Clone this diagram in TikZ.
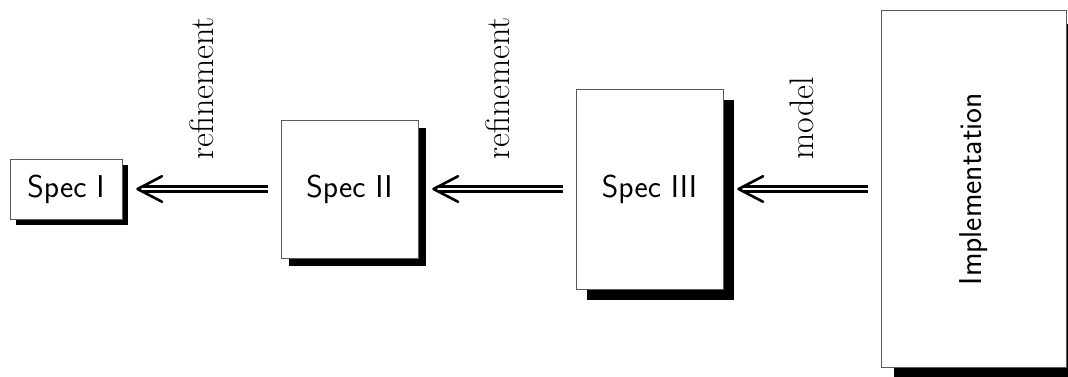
\documentclass[tikz,border=0pt]{standalone}
\usetikzlibrary{arrows.meta,shadows}
\begin{document}
\begin{tikzpicture}[x=0.5pt,y=-0.5pt,
  spec/.style={draw=black!65, line width=0.5pt, fill=white, inner sep=0pt,
    font=\sffamily\fontsize{15.8}{19}\selectfont},
  shadowed/.style={drop shadow={opacity=1, fill=black,
    shadow xshift=#1, shadow yshift=-#1}},
  dbl/.style={double, double distance=1.15pt, line width=1.35pt,
    shorten <=6.5pt, shorten >=2.6pt},
  chev/.style={line width=1.3pt, line cap=round, line join=round},
  lab/.style={rotate=90, anchor=base west, inner sep=0pt,
    font=\rmfamily\fontsize{17}{20}\selectfont}]
\clip (0,0) rectangle (1068,376);

% specification boxes, growing from left to right
\node[spec, shadowed=2.75pt, minimum width=56pt, minimum height=30pt]
  (s1) at (66,189) {Spec I};
\node[spec, shadowed=4pt, minimum width=68.5pt, minimum height=69pt]
  (s2) at (349.5,189) {Spec II};
\node[spec, shadowed=5.5pt, minimum width=73.5pt, minimum height=100pt]
  (s3) at (649.5,189) {Spec III};
\node[spec, shadowed=6.5pt, minimum width=92.5pt, minimum height=178.5pt]
  (impl) at (973.5,189) {\rotatebox{90}{Implementation}};

% tips of the double arrows, a little off each target box
\coordinate (t1) at ([xshift=7.5pt]s1.east);
\coordinate (t2) at ([xshift=7.5pt]s2.east);
\coordinate (t3) at ([xshift=7.5pt]s3.east);

% refinement chain: double shafts
\draw[dbl] (s2) -- (t1);
\draw[dbl] (s3) -- (t2);
\draw[dbl] (impl) -- (t3);

% open arrow heads
\foreach \t in {t1,t2,t3}
  \draw[chev] ([shift={(12.3pt,6.4pt)}]\t) -- (\t) -- ([shift={(12.3pt,-6.4pt)}]\t);

% arrow labels
\node[lab] (l1) at (213,160) {refinement};
\node[lab] (l2) at (509,160) {refinement};
\node[lab] (l3) at (813,160) {model};
\end{tikzpicture}
\end{document}
